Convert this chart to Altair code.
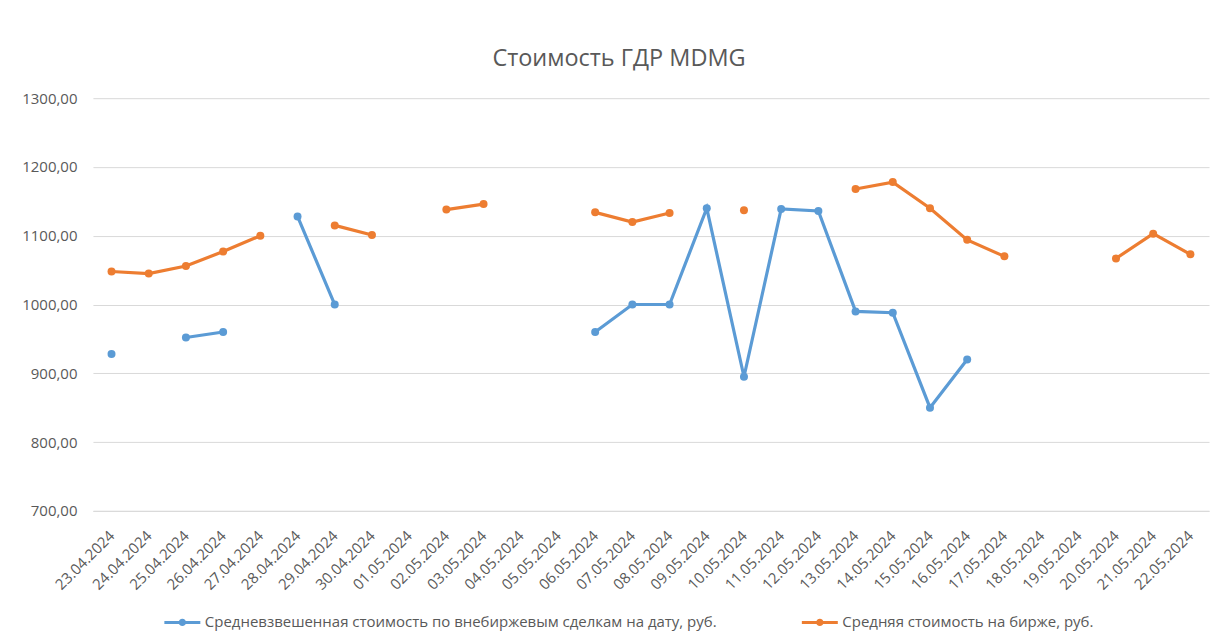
import altair as alt
import pandas as pd

dates = ["23.04.2024", "24.04.2024", "25.04.2024", "26.04.2024", "27.04.2024", "28.04.2024",
         "29.04.2024", "30.04.2024", "01.05.2024", "02.05.2024", "03.05.2024", "04.05.2024",
         "05.05.2024", "06.05.2024", "07.05.2024", "08.05.2024", "09.05.2024", "10.05.2024",
         "11.05.2024", "12.05.2024", "13.05.2024", "14.05.2024", "15.05.2024", "16.05.2024",
         "17.05.2024", "18.05.2024", "19.05.2024", "20.05.2024", "21.05.2024", "22.05.2024"]

otc_values = [928, None, 952, 960, None, 1128,
              1000, None, None, None, None, None,
              None, 960, 1000, 1000, 1140, 895,
              1139, 1136, 990, 988, 850, 920,
              None, None, None, None, None, None]

exchange_values = [1048, 1045, 1056, 1077, 1100, None,
                   1115, 1101, None, 1138, 1146, None,
                   None, 1134, 1120, 1133, None, 1137,
                   None, None, 1168, 1178, 1140, 1094,
                   1070, None, None, 1067, 1103, 1073]

series_names = ["Средневзвешенная стоимость по внебиржевым сделкам на дату, руб.",
                "Средняя стоимость на бирже, руб."]
series_colors = ["#5B9BD5", "#ED7D31"]

rows = []
for name, vals in zip(series_names, [otc_values, exchange_values]):
    for d, v in zip(dates, vals):
        rows.append({"date": d, "series": name, "value": v})
df = pd.DataFrame(rows)

FONT = "Open Sans"
GRAY = "#595959"

x_enc = alt.X("date:O", sort=dates,
              scale=alt.Scale(domain=dates, padding=0.5),
              axis=alt.Axis(title=None, labelAngle=-45, labelAlign="right",
                            labelBaseline="middle", labelFontSize=15, labelColor=GRAY,
                            labelFont=FONT, ticks=False, domainColor="#d9d9d9",
                            labelPadding=22, grid=False))
y_enc = alt.Y("value:Q",
              scale=alt.Scale(domain=[700, 1300], nice=False, zero=False),
              axis=alt.Axis(title=None, values=[700, 800, 900, 1000, 1100, 1200, 1300],
                            labelExpr="replace(format(datum.value, '.2f'), '.', ',')",
                            labelFontSize=15, labelColor=GRAY, labelFont=FONT,
                            ticks=False, domain=False, gridColor="#d9d9d9",
                            labelPadding=16, minExtent=80, maxExtent=80))

color_scale = alt.Scale(domain=series_names, range=series_colors)

legend_symbol = "M-1,0H1M0.12,0A0.12,0.12 0 1,1 -0.12,0A0.12,0.12 0 1,1 0.12,0Z"

lines = alt.Chart(df).mark_line(strokeWidth=3.2, invalid="break-paths-show-domains").encode(
    x=x_enc, y=y_enc,
    color=alt.Color("series:N", scale=color_scale, sort=series_names,
                    legend=alt.Legend(title=None, orient="none", direction="horizontal",
                                      legendX=70, legendY=505,
                                      symbolType=legend_symbol, symbolSize=1296,
                                      symbolStrokeWidth=3, labelFontSize=15,
                                      labelFont=FONT, labelColor=GRAY, labelLimit=900,
                                      columnPadding=78, labelOffset=3))
)

points = alt.Chart(df).mark_point(filled=True, size=64, opacity=1).encode(
    x=x_enc, y=y_enc,
    color=alt.Color("series:N", scale=color_scale, sort=series_names, legend=None)
)

chart = alt.layer(lines, points).properties(
    width=1117, height=413, background="white",
    title=alt.TitleParams("Стоимость ГДР MDMG", fontSize=23.5, font=FONT, color=GRAY,
                          fontWeight="normal", offset=21, anchor="middle", dx=-32),
    padding={"left": 5, "top": 38, "right": 2, "bottom": 5}
).configure_view(strokeWidth=0, stroke="transparent")

chart.save("out.html", embed_options={"renderer": "svg", "actions": False})
